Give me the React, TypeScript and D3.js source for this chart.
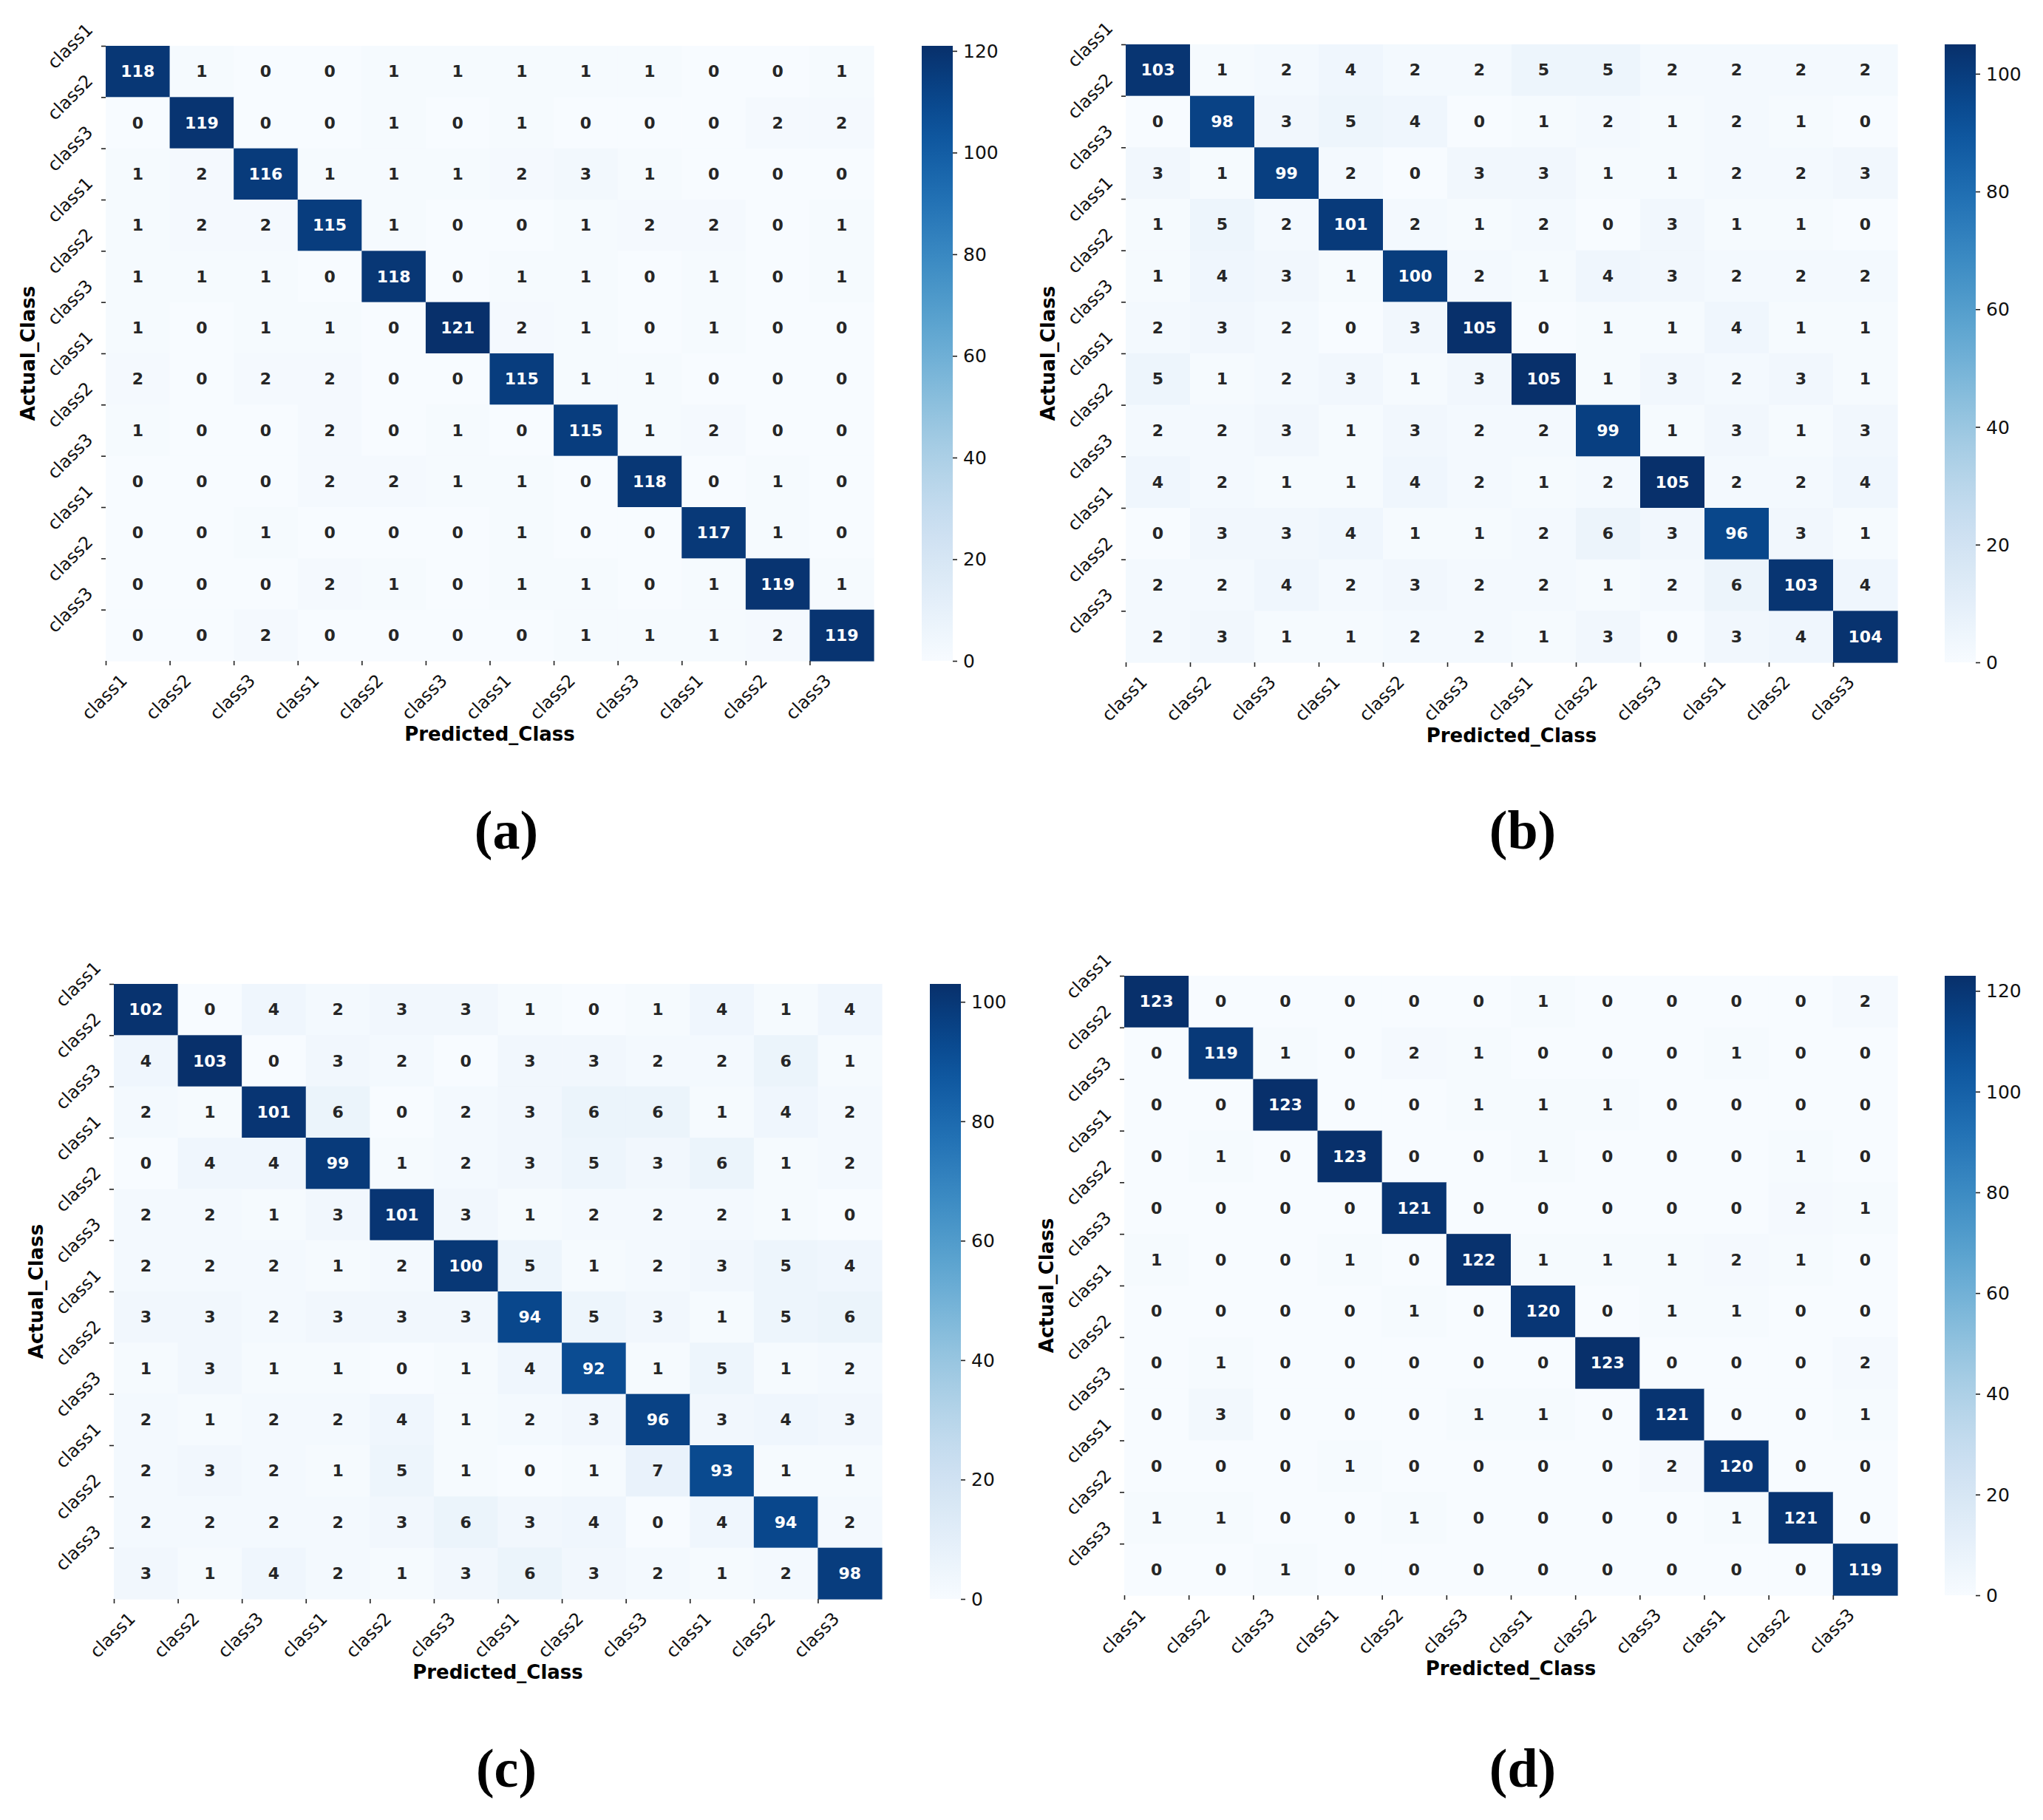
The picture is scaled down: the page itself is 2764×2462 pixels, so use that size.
import React, { useEffect, useRef } from "react";
import * as d3 from "d3";

const W = 2764;
const H = 2462;

// same 12 tick labels on both axes of every matrix
const classLabels = [
  "class1", "class2", "class3", "class1", "class2", "class3",
  "class1", "class2", "class3", "class1", "class2", "class3",
];

const matrixA = [
  [118, 1, 0, 0, 1, 1, 1, 1, 1, 0, 0, 1],
  [0, 119, 0, 0, 1, 0, 1, 0, 0, 0, 2, 2],
  [1, 2, 116, 1, 1, 1, 2, 3, 1, 0, 0, 0],
  [1, 2, 2, 115, 1, 0, 0, 1, 2, 2, 0, 1],
  [1, 1, 1, 0, 118, 0, 1, 1, 0, 1, 0, 1],
  [1, 0, 1, 1, 0, 121, 2, 1, 0, 1, 0, 0],
  [2, 0, 2, 2, 0, 0, 115, 1, 1, 0, 0, 0],
  [1, 0, 0, 2, 0, 1, 0, 115, 1, 2, 0, 0],
  [0, 0, 0, 2, 2, 1, 1, 0, 118, 0, 1, 0],
  [0, 0, 1, 0, 0, 0, 1, 0, 0, 117, 1, 0],
  [0, 0, 0, 2, 1, 0, 1, 1, 0, 1, 119, 1],
  [0, 0, 2, 0, 0, 0, 0, 1, 1, 1, 2, 119],
];

const matrixB = [
  [103, 1, 2, 4, 2, 2, 5, 5, 2, 2, 2, 2],
  [0, 98, 3, 5, 4, 0, 1, 2, 1, 2, 1, 0],
  [3, 1, 99, 2, 0, 3, 3, 1, 1, 2, 2, 3],
  [1, 5, 2, 101, 2, 1, 2, 0, 3, 1, 1, 0],
  [1, 4, 3, 1, 100, 2, 1, 4, 3, 2, 2, 2],
  [2, 3, 2, 0, 3, 105, 0, 1, 1, 4, 1, 1],
  [5, 1, 2, 3, 1, 3, 105, 1, 3, 2, 3, 1],
  [2, 2, 3, 1, 3, 2, 2, 99, 1, 3, 1, 3],
  [4, 2, 1, 1, 4, 2, 1, 2, 105, 2, 2, 4],
  [0, 3, 3, 4, 1, 1, 2, 6, 3, 96, 3, 1],
  [2, 2, 4, 2, 3, 2, 2, 1, 2, 6, 103, 4],
  [2, 3, 1, 1, 2, 2, 1, 3, 0, 3, 4, 104],
];

const matrixC = [
  [102, 0, 4, 2, 3, 3, 1, 0, 1, 4, 1, 4],
  [4, 103, 0, 3, 2, 0, 3, 3, 2, 2, 6, 1],
  [2, 1, 101, 6, 0, 2, 3, 6, 6, 1, 4, 2],
  [0, 4, 4, 99, 1, 2, 3, 5, 3, 6, 1, 2],
  [2, 2, 1, 3, 101, 3, 1, 2, 2, 2, 1, 0],
  [2, 2, 2, 1, 2, 100, 5, 1, 2, 3, 5, 4],
  [3, 3, 2, 3, 3, 3, 94, 5, 3, 1, 5, 6],
  [1, 3, 1, 1, 0, 1, 4, 92, 1, 5, 1, 2],
  [2, 1, 2, 2, 4, 1, 2, 3, 96, 3, 4, 3],
  [2, 3, 2, 1, 5, 1, 0, 1, 7, 93, 1, 1],
  [2, 2, 2, 2, 3, 6, 3, 4, 0, 4, 94, 2],
  [3, 1, 4, 2, 1, 3, 6, 3, 2, 1, 2, 98],
];

const matrixD = [
  [123, 0, 0, 0, 0, 0, 1, 0, 0, 0, 0, 2],
  [0, 119, 1, 0, 2, 1, 0, 0, 0, 1, 0, 0],
  [0, 0, 123, 0, 0, 1, 1, 1, 0, 0, 0, 0],
  [0, 1, 0, 123, 0, 0, 1, 0, 0, 0, 1, 0],
  [0, 0, 0, 0, 121, 0, 0, 0, 0, 0, 2, 1],
  [1, 0, 0, 1, 0, 122, 1, 1, 1, 2, 1, 0],
  [0, 0, 0, 0, 1, 0, 120, 0, 1, 1, 0, 0],
  [0, 1, 0, 0, 0, 0, 0, 123, 0, 0, 0, 2],
  [0, 3, 0, 0, 0, 1, 1, 0, 121, 0, 0, 1],
  [0, 0, 0, 1, 0, 0, 0, 0, 2, 120, 0, 0],
  [1, 1, 0, 0, 1, 0, 0, 0, 0, 1, 121, 0],
  [0, 0, 1, 0, 0, 0, 0, 0, 0, 0, 0, 119],
];

const colorbarTicksA = [0, 20, 40, 60, 80, 100, 120];
const colorbarTicksB = [0, 20, 40, 60, 80, 100];
const colorbarTicksC = [0, 20, 40, 60, 80, 100];
const colorbarTicksD = [0, 20, 40, 60, 80, 100, 120];

const panelLetters = ["(a)", "(b)", "(c)", "(d)"];

// where each panel sits on the page
const layout = [
  { x0: 143, x1: 1182, y0: 62, y1: 894, cbX: 1247, letterX: 685, letterY: 1148 },
  { x0: 1523, x1: 2567, y0: 60, y1: 896, cbX: 2631, letterX: 2060, letterY: 1148 },
  { x0: 154, x1: 1193, y0: 1331, y1: 2163, cbX: 1258, letterX: 685, letterY: 2417 },
  { x0: 1521, x1: 2567, y0: 1320, y1: 2158, cbX: 2631, letterX: 2060, letterY: 2417 },
];

const FONT = "DejaVu Sans, sans-serif";

// seaborn picks annotation colour from the cell's luminance
const luminance = (c: string) => {
  const rgb = d3.rgb(c);
  const lin = (v: number) => {
    const s = v / 255;
    return s <= 0.03928 ? s / 12.92 : Math.pow((s + 0.055) / 1.055, 2.4);
  };
  return 0.2126 * lin(rgb.r) + 0.7152 * lin(rgb.g) + 0.0722 * lin(rgb.b);
};

const App = () => {
  const svgRef = useRef<SVGSVGElement>(null);

  useEffect(() => {
    const matrices = [matrixA, matrixB, matrixC, matrixD];
    const cbTicks = [colorbarTicksA, colorbarTicksB, colorbarTicksC, colorbarTicksD];

    const svg = d3.select(svgRef.current);
    svg.selectAll("*").remove();
    svg.append("rect").attr("width", W).attr("height", H).attr("fill", "#fff");
    const defs = svg.append("defs");

    matrices.forEach((data, pi) => {
      const p = layout[pi];
      const n = data.length;
      const flat = data.flat();
      const vmin = d3.min(flat) as number;
      const vmax = d3.max(flat) as number;
      const color = d3.scaleSequential(d3.interpolateBlues).domain([vmin, vmax]);

      const x = d3.scaleBand<number>().domain(d3.range(n)).range([p.x0, p.x1]);
      const y = d3.scaleBand<number>().domain(d3.range(n)).range([p.y0, p.y1]);

      const g = svg.append("g");

      const cells = data.flatMap((row, r) => row.map((v, c) => ({ r, c, v })));

      g.selectAll("rect.cell")
        .data(cells)
        .join("rect")
        .attr("class", "cell")
        .attr("x", d => x(d.c)!)
        .attr("y", d => y(d.r)!)
        .attr("width", x.bandwidth() + 0.6)
        .attr("height", y.bandwidth() + 0.6)
        .attr("fill", d => color(d.v));

      g.selectAll("text.annot")
        .data(cells)
        .join("text")
        .attr("class", "annot")
        .attr("x", d => x(d.c)! + x.bandwidth() / 2)
        .attr("y", d => y(d.r)! + y.bandwidth() / 2)
        .attr("text-anchor", "middle")
        .attr("dominant-baseline", "central")
        .style("font-family", FONT)
        .style("font-weight", "bold")
        .style("font-size", "22px")
        .attr("fill", d => (luminance(color(d.v)) > 0.408 ? "#262626" : "#ffffff"))
        .text(d => d.v);

      // ticks sit on the cell edges, not centres
      const xEdge = d3.scaleLinear().domain([0, n]).range([p.x0, p.x1]);
      const yEdge = d3.scaleLinear().domain([0, n]).range([p.y0, p.y1]);

      const xAxis = g.append("g")
        .attr("transform", `translate(0,${p.y1})`)
        .call(d3.axisBottom(xEdge).tickValues(d3.range(n)).tickSize(6).tickFormat(i => classLabels[+i]));
      const yAxis = g.append("g")
        .attr("transform", `translate(${p.x0},0)`)
        .call(d3.axisLeft(yEdge).tickValues(d3.range(n)).tickSize(6).tickFormat(i => classLabels[+i]));

      [xAxis, yAxis].forEach(ax => {
        ax.select(".domain").remove();
        ax.selectAll("line").attr("stroke", "#222").attr("stroke-width", 1.6);
        ax.selectAll("text")
          .attr("x", 0)
          .attr("y", 0)
          .attr("dy", null)
          .attr("text-anchor", "middle")
          .attr("dominant-baseline", "central")
          .attr("fill", "#111")
          .style("font-family", FONT)
          .style("font-size", "24px");
      });
      xAxis.selectAll("text").attr("transform", "translate(-2,49) rotate(-45)");
      yAxis.selectAll("text").attr("transform", "translate(-48,0) rotate(-45)");

      g.append("text")
        .attr("x", (p.x0 + p.x1) / 2)
        .attr("y", p.y1 + 108)
        .attr("text-anchor", "middle")
        .style("font-family", FONT)
        .style("font-weight", "bold")
        .style("font-size", "26px")
        .attr("fill", "#000")
        .text("Predicted_Class");

      g.append("text")
        .attr("transform", `translate(${p.x0 - 105},${(p.y0 + p.y1) / 2}) rotate(-90)`)
        .attr("text-anchor", "middle")
        .attr("dominant-baseline", "central")
        .style("font-family", FONT)
        .style("font-weight", "bold")
        .style("font-size", "26px")
        .attr("fill", "#000")
        .text("Actual_Class");

      // colour bar
      const gradId = `cbgrad${pi}`;
      const grad = defs.append("linearGradient")
        .attr("id", gradId)
        .attr("x1", 0).attr("y1", 1).attr("x2", 0).attr("y2", 0);
      d3.range(0, 1.0001, 0.05).forEach(t => {
        grad.append("stop")
          .attr("offset", t)
          .attr("stop-color", color(vmin + t * (vmax - vmin)));
      });
      const cbW = 42;
      g.append("rect")
        .attr("x", p.cbX)
        .attr("y", p.y0)
        .attr("width", cbW)
        .attr("height", p.y1 - p.y0)
        .attr("fill", `url(#${gradId})`);

      const cbScale = d3.scaleLinear().domain([vmin, vmax]).range([p.y1, p.y0]);
      const cbAxis = g.append("g")
        .attr("transform", `translate(${p.cbX + cbW},0)`)
        .call(d3.axisRight(cbScale).tickValues(cbTicks[pi]).tickSize(6).tickPadding(8));
      cbAxis.select(".domain").remove();
      cbAxis.selectAll("line").attr("stroke", "#222").attr("stroke-width", 1.6);
      cbAxis.selectAll("text")
        .attr("dy", null)
        .attr("dominant-baseline", "central")
        .attr("fill", "#111")
        .style("font-family", FONT)
        .style("font-size", "25px");

      svg.append("text")
        .attr("x", p.letterX)
        .attr("y", p.letterY)
        .attr("text-anchor", "middle")
        .style("font-family", "Liberation Serif, serif")
        .style("font-weight", "bold")
        .style("font-size", "74px")
        .attr("fill", "#000")
        .text(panelLetters[pi]);
    });
  }, []);

  return (
    <svg
      ref={svgRef}
      width={W}
      height={H}
      style={{ position: "absolute", left: 0, top: 0 }}
    />
  );
};

export default App;
